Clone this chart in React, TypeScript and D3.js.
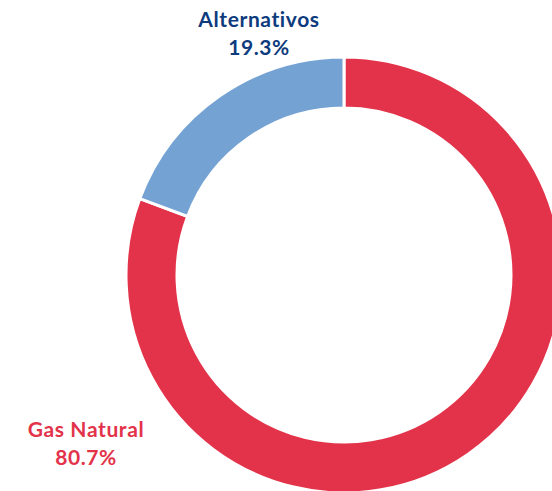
import * as d3 from "d3";

const categories = ["Gas Natural", "Alternativos"];
const values = [80.7, 19.3];
const colors = ["#E3334A", "#74A2D3"];
const labelColors = ["#E3334A", "#0E3B7E"];

const WIDTH = 552;
const HEIGHT = 491;

export default function App() {
  const cx = 344;
  const cy = 275;
  const outerR = 218;
  const innerR = 167;

  const pie = d3
    .pie<number>()
    .sort(null)
    .value((d) => d);
  const arcs = pie(values);
  const arc = d3.arc<d3.PieArcDatum<number>>().innerRadius(innerR).outerRadius(outerR);

  // label positions (hand placed like the original layout)
  const labelPos = [
    { x: 86, y: 437 },
    { x: 259, y: 27 },
  ];

  return (
    <svg
      width={WIDTH}
      height={HEIGHT}
      style={{ position: "absolute", left: 0, top: 0, background: "#fff" }}
      fontFamily="Lato, 'Open Sans', sans-serif"
    >
      <g transform={`translate(${cx},${cy})`}>
        {arcs.map((a, i) => (
          <path
            key={categories[i]}
            d={arc(a) ?? ""}
            fill={colors[i]}
            stroke="#fff"
            strokeWidth={3}
          />
        ))}
      </g>
      {categories.map((c, i) => (
        <text
          key={c}
          x={labelPos[i].x}
          y={labelPos[i].y}
          textAnchor="middle"
          fill={labelColors[i]}
          fontWeight={700}
          fontSize={21}
          letterSpacing={0.6}
        >
          <tspan x={labelPos[i].x}>{c}</tspan>
          <tspan x={labelPos[i].x} dy={28}>
            {values[i].toFixed(1)}%
          </tspan>
        </text>
      ))}
    </svg>
  );
}
